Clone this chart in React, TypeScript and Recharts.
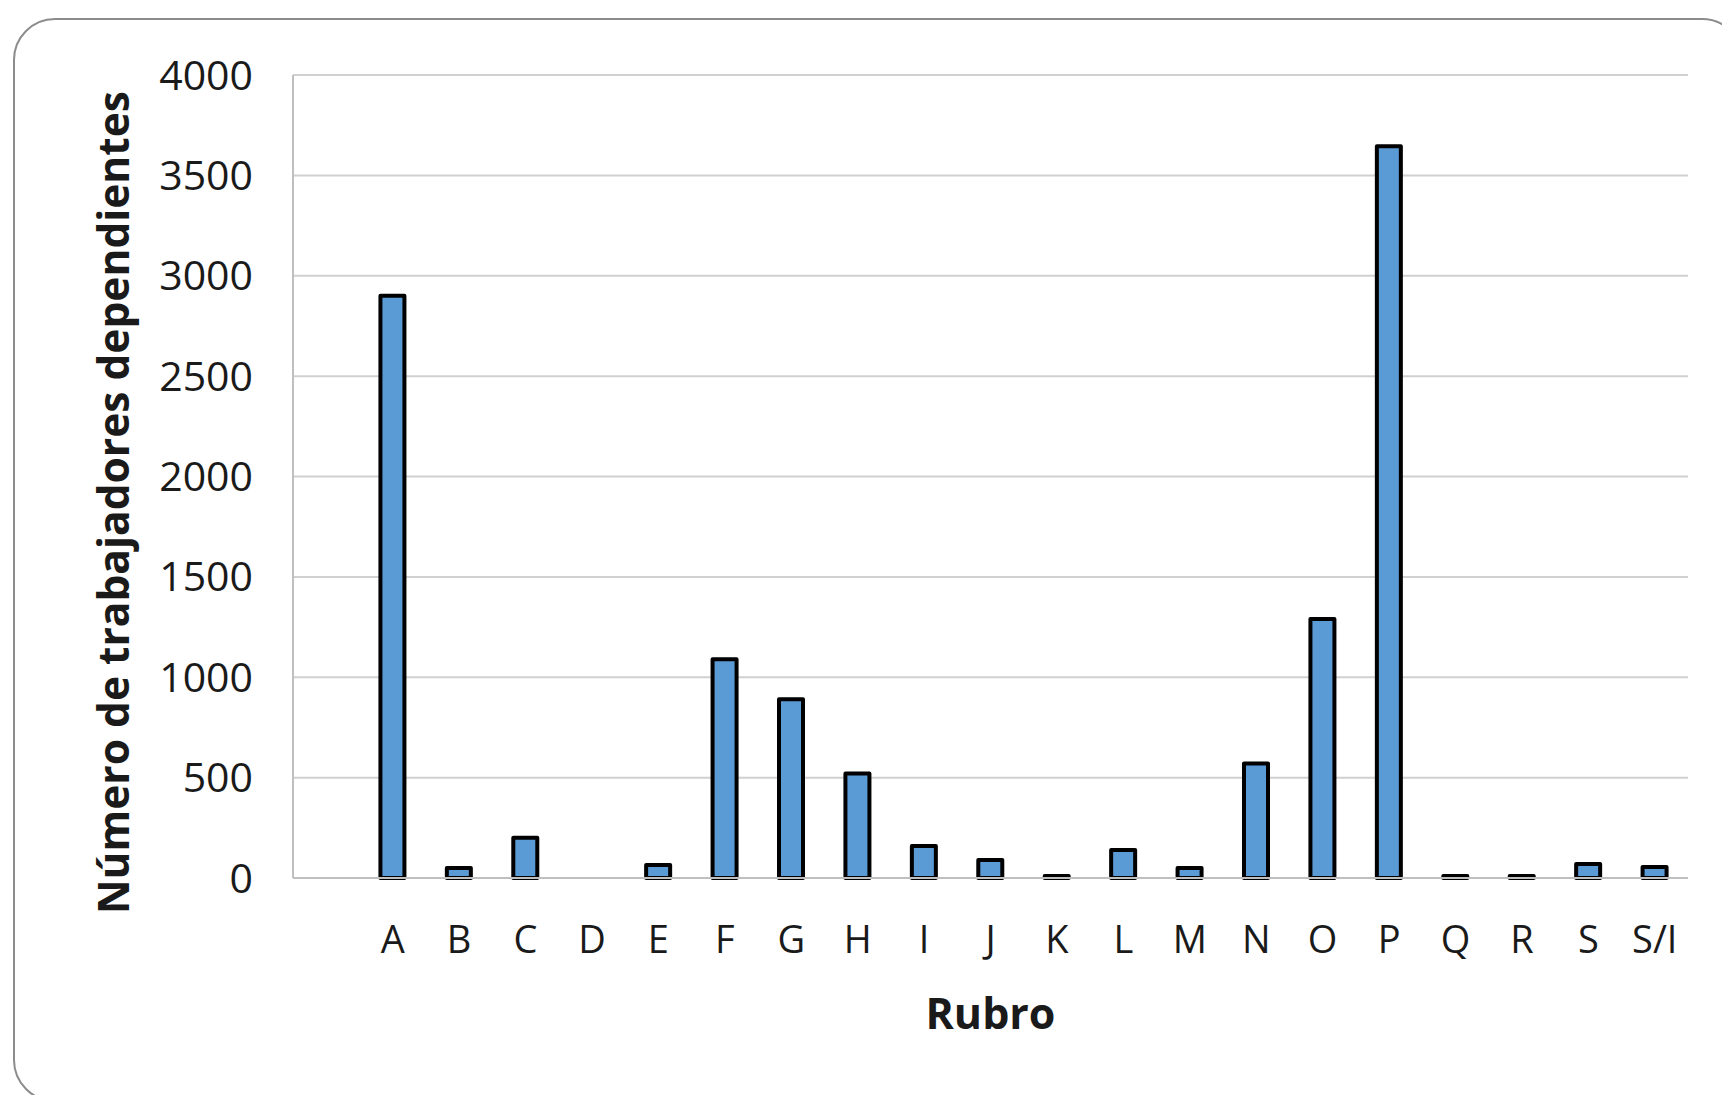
import { BarChart, Bar, XAxis, YAxis, CartesianGrid, Label } from 'recharts';

// categories (first slot is an empty category, as in the original sheet)
const rubros = ['', 'A', 'B', 'C', 'D', 'E', 'F', 'G', 'H', 'I', 'J', 'K', 'L', 'M', 'N', 'O', 'P', 'Q', 'R', 'S', 'S/I'];
const trabajadores = [0, 2900, 50, 200, 0, 65, 1090, 890, 520, 160, 90, 10, 140, 50, 570, 1290, 3645, 10, 10, 70, 55];
const yTicks = [0, 500, 1000, 1500, 2000, 2500, 3000, 3500, 4000];

const FONT = '"Open Sans", sans-serif';

function YTitle(props: any) {
  const { viewBox } = props;
  const x = viewBox.x + 129;
  const y = viewBox.y + viewBox.height / 2 + 26;
  return (
    <text
      x={x}
      y={y}
      transform={`rotate(-90, ${x}, ${y})`}
      textAnchor="middle"
      fontFamily={FONT}
      fontSize={42.5}
      fontWeight={700}
      fill="#1a1a1a"
    >
      Número de trabajadores dependientes
    </text>
  );
}

export default function App() {
  const data = rubros.map((rubro, i) => ({ rubro, valor: trabajadores[i] }));

  return (
    <div
      style={{
        position: 'absolute',
        left: 0,
        top: 0,
        width: 1722,
        height: 1095,
        overflow: 'hidden',
        background: '#fff',
        fontFamily: FONT,
      }}
    >
      <div
        style={{
          position: 'absolute',
          left: 13,
          top: 18,
          width: 1727,
          height: 1080,
          border: '2px solid #8c8c8c',
          borderRadius: 42,
        }}
      />
      <BarChart
        width={1722}
        height={1095}
        data={data}
        margin={{ top: 75, right: 34, bottom: 117, left: 0 }}
        barCategoryGap={0}
      >
        <CartesianGrid vertical={false} stroke="#d0d0d0" strokeWidth={2} />
        <XAxis
          dataKey="rubro"
          interval={0}
          tickLine={false}
          tickSize={0}
          tickMargin={48}
          height={100}
          axisLine={{ stroke: '#bfbfbf', strokeWidth: 2 }}
          tick={{ fill: '#1a1a1a', fontSize: 38, fontFamily: FONT }}
        >
          <Label
            value="Rubro"
            position="bottom"
            offset={20}
            style={{ fontSize: 43, fontWeight: 700, fill: '#1a1a1a', fontFamily: FONT }}
          />
        </XAxis>
        <YAxis
          domain={[0, 4000]}
          ticks={yTicks}
          width={293}
          tickLine={false}
          tickSize={0}
          tickMargin={40}
          axisLine={{ stroke: '#bfbfbf', strokeWidth: 2 }}
          tick={{ fill: '#1a1a1a', fontSize: 41, fontFamily: FONT }}
        >
          <Label content={YTitle} />
        </YAxis>
        <Bar
          dataKey="valor"
          fill="#5B9BD5"
          stroke="#000"
          strokeWidth={4}
          strokeLinejoin="round"
          barSize={24}
          isAnimationActive={false}
        />
      </BarChart>
    </div>
  );
}
